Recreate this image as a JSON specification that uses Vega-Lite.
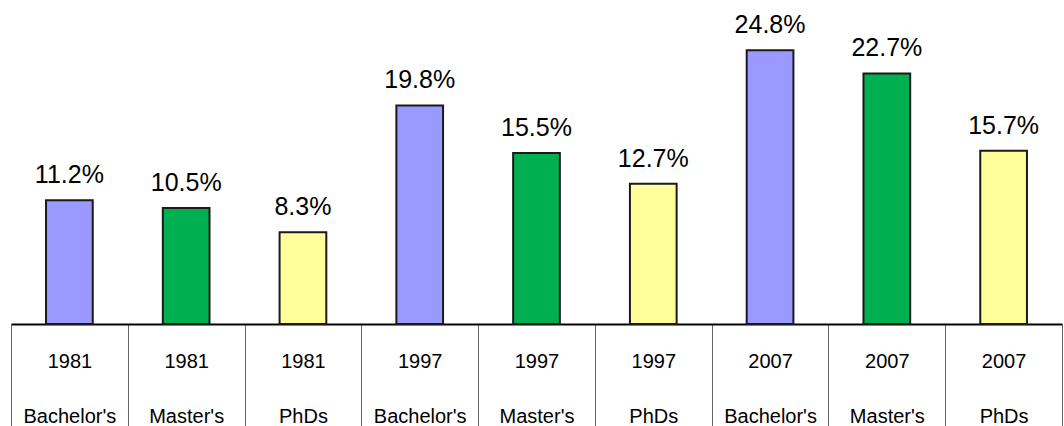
{
  "$schema": "https://vega.github.io/schema/vega-lite/v6.json",
  "width": 1051,
  "height": 324,
  "autosize": "none",
  "padding": {"left": 11, "top": 0, "right": 2, "bottom": 102},
  "background": "white",
  "config": {"view": {"stroke": null}, "font": "Liberation Sans"},
  "data": {
    "values": [
      {"key": "1981|Bachelor's", "degree": "Bachelor's", "pct": 11.2, "label": "11.2%"},
      {"key": "1981|Master's", "degree": "Master's", "pct": 10.5, "label": "10.5%"},
      {"key": "1981|PhDs", "degree": "PhDs", "pct": 8.3, "label": "8.3%"},
      {"key": "1997|Bachelor's", "degree": "Bachelor's", "pct": 19.8, "label": "19.8%"},
      {"key": "1997|Master's", "degree": "Master's", "pct": 15.5, "label": "15.5%"},
      {"key": "1997|PhDs", "degree": "PhDs", "pct": 12.7, "label": "12.7%"},
      {"key": "2007|Bachelor's", "degree": "Bachelor's", "pct": 24.8, "label": "24.8%"},
      {"key": "2007|Master's", "degree": "Master's", "pct": 22.7, "label": "22.7%"},
      {"key": "2007|PhDs", "degree": "PhDs", "pct": 15.7, "label": "15.7%"}
    ]
  },
  "encoding": {
    "x": {
      "field": "key",
      "type": "nominal",
      "sort": null,
      "scale": {"paddingInner": 0, "paddingOuter": 0},
      "axis": {
        "title": null,
        "domainColor": "black",
        "domainWidth": 2,
        "ticks": true,
        "tickBand": "extent",
        "tickSize": 102,
        "tickColor": "#666666",
        "tickWidth": 1,
        "labelExpr": "isString(datum.value) ? split(datum.value, '|') : ''",
        "labelFont": "Liberation Sans",
        "labelFontSize": 20,
        "labelColor": "black",
        "labelAngle": 0,
        "labelBaseline": "alphabetic",
        "labelPadding": -59,
        "labelLineHeight": 55
      }
    },
    "y": {
      "field": "pct",
      "type": "quantitative",
      "scale": {"domain": [0, 29.35]},
      "axis": null
    }
  },
  "layer": [
    {
      "mark": {"type": "bar", "width": {"band": 0.4}, "stroke": "#1a1a1a", "strokeWidth": 2},
      "encoding": {
        "color": {
          "field": "degree",
          "type": "nominal",
          "scale": {"domain": ["Bachelor's", "Master's", "PhDs"], "range": ["#9999FF", "#00B050", "#FFFF99"]},
          "legend": null
        }
      }
    },
    {
      "mark": {"type": "text", "baseline": "alphabetic", "dy": -17, "fontSize": 25, "font": "Liberation Sans", "color": "black"},
      "encoding": {"text": {"field": "label"}}
    }
  ]
}
